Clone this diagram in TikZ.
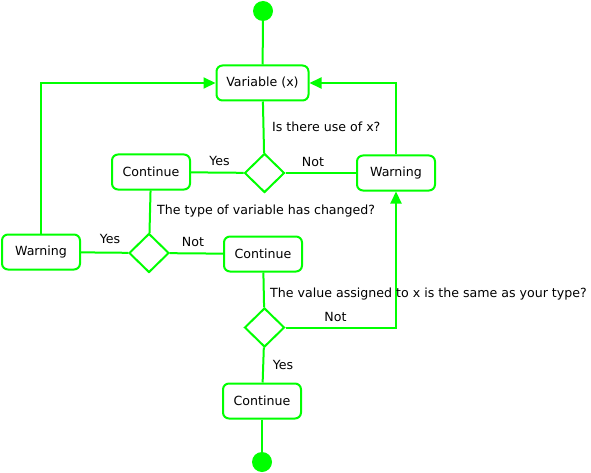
\documentclass[tikz,border=0pt]{standalone}
\usepackage{fontspec}
\setmainfont{DejaVu Sans}
\usetikzlibrary{shapes.geometric,arrows.meta}
\definecolor{flowgreen}{RGB}{0,255,0}

\begin{document}
\begin{tikzpicture}[x=1pt, y=-1pt,
  every node/.style={font=\fontsize{12.6}{14}\selectfont},
  stepbox/.style={draw=flowgreen, line width=2pt, rounded corners=6pt, fill=white,
    minimum width=78pt, minimum height=35pt, inner sep=0pt},
  choice/.style={draw=flowgreen, line width=2pt, diamond, fill=white,
    minimum width=40pt, minimum height=39pt, inner sep=0pt},
  dot/.style={circle, fill=flowgreen, minimum size=20pt, inner sep=0pt},
  flow/.style={draw=flowgreen, line width=2pt},
  tip/.style={-{Triangle[length=12pt,width=11pt]}},
  note/.style={anchor=west, inner sep=0pt}]
\useasboundingbox (0,0) rectangle (591,473);
% start and end
\node [dot] (start) at (263,11) {};
\node [dot] (stop) at (262,462) {};
% boxes
\node [stepbox, minimum width=92pt] (var) at (262.5,83) {Variable (x)};
\node [stepbox] (cont1) at (151,172) {Continue};
\node [stepbox] (warn1) at (396,173) {Warning};
\node [stepbox] (warn2) at (41,252) {Warning};
\node [stepbox] (cont2) at (263,254) {Continue};
\node [stepbox] (cont3) at (262,401) {Continue};
% decisions
\node [choice] (use) at (264.5,173) {};
\node [choice] (type) at (149,253) {};
\node [choice] (same) at (264.5,327.5) {};
% connectors
\draw [flow] (start) -- (var);
\draw [flow] (var) -- (use);
\draw [flow] (use) -- (cont1);
\draw [flow] (use) -- (warn1);
\draw [flow, tip] (warn1.north) |- (var.east);
\draw [flow] (cont1) -- (type);
\draw [flow] (type) -- (warn2);
\draw [flow] (type) -- (cont2);
\draw [flow, tip] (warn2.north) |- (var.west);
\draw [flow] (cont2) -- (same);
\draw [flow, tip] (same.east) -| (warn1.south);
\draw [flow] (same) -- (cont3);
\draw [flow] (cont3) -- (stop);
% texts
\node [note] at (272,127) {Is there use of x?};
\node at (219.5,161) {Yes};
\node at (313,162) {Not};
\node [note] at (157,211) {The type of variable has changed?};
\node at (110,239) {Yes};
\node at (193,242) {Not};
\node [note] at (270,294) {The value assigned to x is the same as your type?};
\node at (335.5,317) {Not};
\node at (283,365) {Yes};
\end{tikzpicture}
\end{document}
